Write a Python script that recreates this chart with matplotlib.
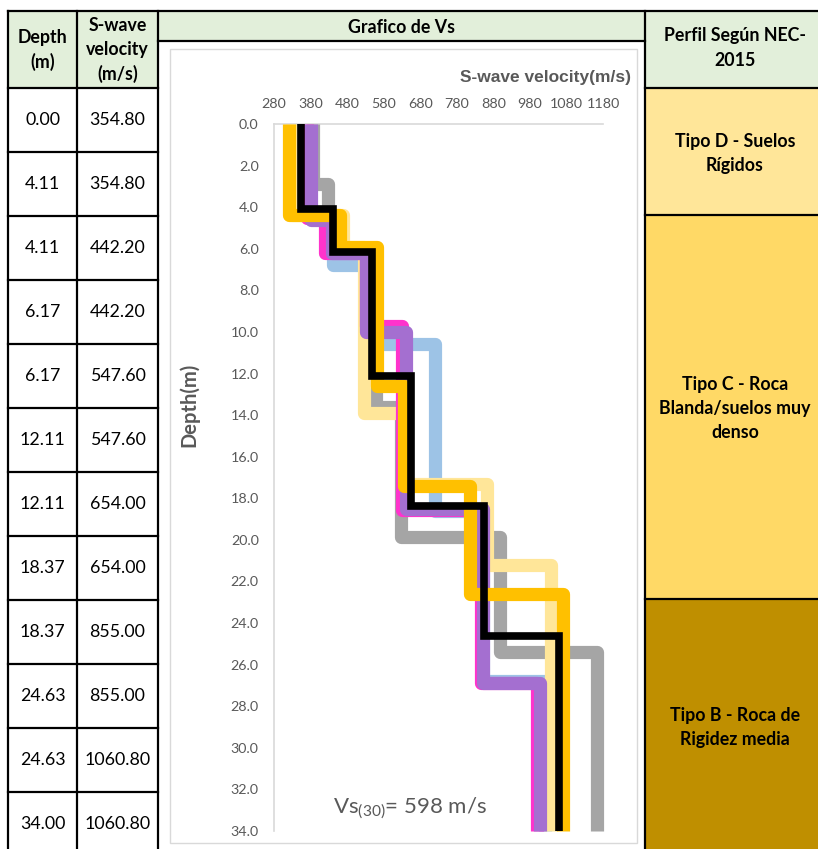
import numpy as np
import matplotlib
matplotlib.use("Agg")
import matplotlib.pyplot as plt
from matplotlib.patches import Rectangle

plt.rcParams['font.family'] = ['Lato', 'DejaVu Sans']
plt.rcParams['mathtext.fontset'] = 'custom'
plt.rcParams['mathtext.rm'] = 'Lato'
plt.rcParams['mathtext.default'] = 'regular'

# Table values (average profile)
depth_tbl = [0.00, 4.11, 4.11, 6.17, 6.17, 12.11, 12.11, 18.37, 18.37, 24.63, 24.63, 34.00]
vs_tbl = [354.80, 354.80, 442.20, 442.20, 547.60, 547.60, 654.00, 654.00, 855.00, 855.00, 1060.80, 1060.80]

# Individual profiles: layer boundaries (m) and velocity of each layer (m/s)
blue_z = [0, 4.4, 6.8, 10.6, 18.6, 26.8, 34]
blue_vs = [355, 442, 532, 720, 852, 1020]
gray_z = [0, 2.9, 4.4, 6.0, 13.6, 19.85, 25.4, 34]
gray_vs = [387, 428, 445, 558, 627, 898, 1163]
lyellow_z = [0, 4.4, 5.9, 13.9, 17.3, 21.2, 34]
lyellow_vs = [329, 470, 526, 633, 863, 1038]
magenta_z = [0, 4.5, 6.2, 9.7, 18.55, 26.9, 34]
magenta_vs = [370, 420, 532, 630, 845, 1000]
purple_z = [0, 4.6, 6.2, 10.0, 18.5, 26.9, 34]
purple_vs = [381, 440, 532, 640, 852, 1007]
gold_z = [0, 4.4, 5.9, 12.6, 17.4, 22.6, 34]
gold_vs = [320, 460, 562, 636, 816, 1070]

site_classes = ["Tipo D - Suelos\nRígidos", "Tipo C - Roca\nBlanda/suelos muy\ndenso",
                "Tipo B - Roca de\nRigidez media"]
vs30 = 598
x_ticks = np.arange(280, 1181, 100)
y_ticks = np.arange(0, 34.1, 2)

fig = plt.figure(figsize=(8.18, 8.49), dpi=100)

# background "spreadsheet" in pixel coordinates
bg = fig.add_axes([0, 0, 1, 1])
bg.set_xlim(0, 818)
bg.set_ylim(849, 0)
bg.axis('off')

green = '#E2EFDA'
bg.add_patch(Rectangle((8, 11), 150, 77, color=green, lw=0))
bg.add_patch(Rectangle((158, 11), 487, 30, color=green, lw=0))
bg.add_patch(Rectangle((645, 11), 173, 77, color=green, lw=0))
bg.add_patch(Rectangle((645, 88), 173, 127, color='#FFE699', lw=0))
bg.add_patch(Rectangle((645, 215), 173, 384, color='#FFD966', lw=0))
bg.add_patch(Rectangle((645, 599), 173, 250, color='#BF8F00', lw=0))
bg.add_patch(Rectangle((170, 49), 467, 794, fill=False, ec='#D9D9D9', lw=1))

kw = dict(color='black', lw=1.6, solid_capstyle='projecting')
for x in [8, 77, 158, 645]:
    bg.plot([x, x], [11, 849], **kw)
bg.plot([8, 818], [11, 11], **kw)
bg.plot([8, 158], [88, 88], **kw)
bg.plot([158, 645], [41, 41], **kw)
for y in [88, 215, 599]:
    bg.plot([645, 818], [y, y], **kw)
for i in range(1, len(depth_tbl) + 1):
    bg.plot([8, 158], [88 + 64 * i, 88 + 64 * i], **kw)

hd = dict(ha='center', va='center', fontsize=12.8, fontweight='bold')
bg.text(42.5, 50, "Depth\n(m)", linespacing=1.5, **hd)
bg.text(117.5, 50, "S-wave\nvelocity\n(m/s)", linespacing=1.5, **hd)
bg.text(402, 27, "Grafico de Vs", **hd)
bg.text(735, 48, "Perfil Según NEC-\n2015", linespacing=1.55, **hd)
for yc, lab in zip([153, 408, 727], site_classes):
    bg.text(735, yc, lab, linespacing=1.5, **hd)

for i, (d, v) in enumerate(zip(depth_tbl, vs_tbl)):
    yc = 88 + 64 * (i + 0.5)
    bg.text(42.5, yc, f"{d:.2f}", ha='center', va='center', fontsize=12.8)
    bg.text(117.5, yc, f"{v:.2f}", ha='center', va='center', fontsize=12.8)

# chart
ax = fig.add_axes([274 / 818, 1 - 831 / 849, 329 / 818, 707 / 849])
ax.set_facecolor('none')
ax.set_xlim(280, 1180)
ax.set_ylim(34, 0)
ax.xaxis.tick_top()
ax.set_xticks(x_ticks)
ax.set_yticks(y_ticks)
ax.set_yticklabels([f"{v:.1f}" for v in y_ticks])
ax.tick_params(length=0, labelsize=10.3, labelcolor='#595959')
ax.tick_params(axis='x', pad=10)
ax.tick_params(axis='y', pad=11)
for s in ['right', 'bottom']:
    ax.spines[s].set_visible(False)
for s in ['top', 'left']:
    ax.spines[s].set_color('#D9D9D9')
    ax.spines[s].set_linewidth(1.2)

profiles = [
    (blue_z, blue_vs, '#9DC3E6'),
    (gray_z, gray_vs, '#A5A5A5'),
    (lyellow_z, lyellow_vs, '#FFE699'),
    (magenta_z, magenta_vs, '#FF33CC'),
    (purple_z, purple_vs, '#A46FD0'),
    (gold_z, gold_vs, '#FFC000'),
]
for k, (z, v, c) in enumerate(profiles):
    xs = np.repeat(v, 2)
    ys = np.repeat(z, 2)[1:-1]
    ax.plot(xs, ys, color=c, lw=9.5, solid_joinstyle='round', solid_capstyle='butt',
            zorder=2 + k, clip_on=False)
ax.plot(vs_tbl, depth_tbl, color='black', lw=5.5, solid_joinstyle='miter', solid_capstyle='butt',
        zorder=10, clip_on=False)

ax.set_xlabel("S-wave velocity(m/s)", fontsize=12.5, fontweight='bold', color='#595959',
              family=['Liberation Sans', 'DejaVu Sans'])
ax.xaxis.set_label_position('top')
ax.xaxis.set_label_coords(1.085, 1.066)
ax.xaxis.label.set_horizontalalignment('right')
ax.xaxis.label.set_verticalalignment('center')

ax.set_ylabel("Depth(m)", fontsize=14.5, fontweight='bold', color='#595959')
ax.yaxis.set_label_coords(-0.258, 0.6025)
ax.yaxis.label.set_verticalalignment('center')

ax.text(0.413, 0.0325, r"Vs$_{(30)}$= " + f"{vs30} m/s", transform=ax.transAxes, ha='center', va='center',
        fontsize=16, color='#595959')

fig.savefig("out.png", dpi=100)
